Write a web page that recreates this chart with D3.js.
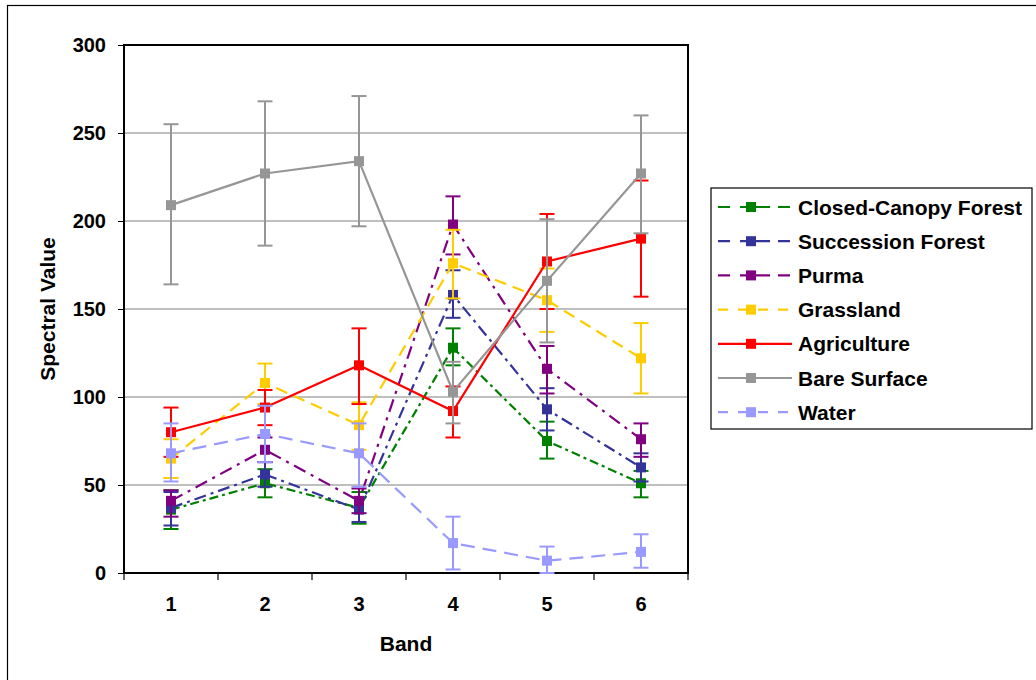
<!DOCTYPE html>
<html><head><meta charset="utf-8">
<script src="https://cdn.jsdelivr.net/npm/d3@7"></script>
<style>body{margin:0;background:#fff;} text{font-family:"Liberation Sans",Arial,sans-serif;font-weight:bold;}</style>
</head><body><svg id="c" width="1036" height="680"></svg>
<script>
const bands = ["1","2","3","4","5","6"];
const yTicks = [0,50,100,150,200,250,300];
const seriesNames = ["Closed-Canopy Forest","Succession Forest","Purma","Grassland","Agriculture","Bare Surface","Water"];
const closedCanopy     = [36, 51, 37, 128, 75, 51];
const closedCanopyLow  = [25, 43, 28, 118, 65, 43];
const closedCanopyHigh = [47, 59, 46, 139, 86, 58];
const succession       = [37, 56, 36, 158, 93, 60];
const successionLow    = [27, 49, 29, 145, 81, 52];
const successionHigh   = [46, 63, 43, 172, 105, 68];
const purma            = [41, 70, 41, 198, 116, 76];
const purmaLow         = [32, 63, 34, 181, 102, 66];
const purmaHigh        = [47, 77, 48, 214, 129, 85];
const grassland        = [65, 108, 84, 176, 155, 122];
const grasslandLow     = [54, 96, 70, 156, 137, 102];
const grasslandHigh    = [76, 119, 97, 195, 173, 142];
const agriculture      = [80, 94, 118, 92, 177, 190];
const agricultureLow   = [66, 84, 96, 77, 150, 157];
const agricultureHigh  = [94, 104, 139, 106, 204, 223];
const bareSurface      = [209, 227, 234, 103, 166, 227];
const bareSurfaceLow   = [164, 186, 197, 85, 131, 193];
const bareSurfaceHigh  = [255, 268, 271, 120, 201, 260];
const water            = [68, 79, 68, 17, 7, 12];
const waterLow         = [52, 63, 49, 2, 0, 3];
const waterHigh        = [85, 95, 85, 32, 15, 22];

const styles = [
  {color:"#008000", dash:"9,4,3,4"},
  {color:"#333399", dash:"12,5,3,5"},
  {color:"#800080", dash:"13,6,3,6"},
  {color:"#FFCC00", dash:"12,7"},
  {color:"#FF0000", dash:null},
  {color:"#969696", dash:null},
  {color:"#9999FF", dash:"14,8"}
];
const series = [
  [closedCanopy, closedCanopyLow, closedCanopyHigh],
  [succession, successionLow, successionHigh],
  [purma, purmaLow, purmaHigh],
  [grassland, grasslandLow, grasslandHigh],
  [agriculture, agricultureLow, agricultureHigh],
  [bareSurface, bareSurfaceLow, bareSurfaceHigh],
  [water, waterLow, waterHigh]
].map((s,i)=>({name:seriesNames[i], vals:s[0], lo:s[1], hi:s[2], ...styles[i]}));

const svg = d3.select("#c");
// outer frame
svg.append("rect").attr("x",7.5).attr("y",5.5).attr("width",1040).attr("height",700)
  .attr("fill","none").attr("stroke","#000").attr("stroke-width",1.2);

const L=124, T=45, R=688, B=573;
const x = d3.scaleBand().domain(bands).range([L,R]);
const y = d3.scaleLinear().domain([0,300]).range([B,T]);

// gridlines
svg.append("g").selectAll("line").data(yTicks.filter(d=>d>0)).join("line")
  .attr("x1",L).attr("x2",R).attr("y1",d=>y(d)).attr("y2",d=>y(d))
  .attr("stroke","#808080").attr("stroke-width",1.2);

// axes
const ya = svg.append("g").attr("transform",`translate(${L},0)`)
  .call(d3.axisLeft(y).tickValues(yTicks).tickSize(6).tickPadding(12));
ya.select(".domain").remove();
ya.selectAll("line").attr("stroke","#000");
ya.selectAll("text").attr("font-size",20).attr("fill","#000").style("font-family","Liberation Sans, Arial").style("font-weight","bold");

const xa = svg.append("g").attr("transform",`translate(0,${B})`)
  .call(d3.axisBottom(x).tickSize(0).tickPadding(24));
xa.select(".domain").remove();
xa.selectAll("text").attr("font-size",20).attr("fill","#000").style("font-family","Liberation Sans, Arial").style("font-weight","bold");
// category boundary ticks
svg.append("g").selectAll("line").data(d3.range(bands.length+1)).join("line")
  .attr("x1",i=>L+i*x.step()).attr("x2",i=>L+i*x.step())
  .attr("y1",B).attr("y2",B+7).attr("stroke","#000").attr("stroke-width",1.2);

// plot border
svg.append("rect").attr("x",L).attr("y",T).attr("width",R-L).attr("height",B-T)
  .attr("fill","none").attr("stroke","#000").attr("stroke-width",2);

const cx = d=>x(d)+x.bandwidth()/2;
const line = d3.line().x(d=>cx(d.b)).y(d=>y(d.v));
const gS = svg.append("g");
series.forEach(s=>{
  const pts = bands.map((b,i)=>({b, v:s.vals[i], lo:s.lo[i], hi:s.hi[i]}));
  const g = gS.append("g");
  g.selectAll("line.e").data(pts).join("line").attr("class","e")
    .attr("x1",d=>cx(d.b)).attr("x2",d=>cx(d.b)).attr("y1",d=>y(d.lo)).attr("y2",d=>y(d.hi))
    .attr("stroke",s.color).attr("stroke-width",2);
  ["lo","hi"].forEach(k=>{
    g.selectAll("line.c"+k).data(pts).join("line").attr("class","c"+k)
      .attr("x1",d=>cx(d.b)-7.5).attr("x2",d=>cx(d.b)+7.5).attr("y1",d=>y(d[k])).attr("y2",d=>y(d[k]))
      .attr("stroke",s.color).attr("stroke-width",2);
  });
  g.append("path").datum(pts).attr("d",line).attr("fill","none")
    .attr("stroke",s.color).attr("stroke-width",2.2).attr("stroke-dasharray",s.dash);
  g.selectAll("rect").data(pts).join("rect")
    .attr("x",d=>cx(d.b)-5).attr("y",d=>y(d.v)-5).attr("width",10).attr("height",10)
    .attr("fill",s.color);
});

// axis titles
svg.append("text").attr("x",406).attr("y",651).attr("text-anchor","middle").attr("font-size",21).text("Band");
svg.append("text").attr("transform","translate(55,309) rotate(-90)").attr("text-anchor","middle").attr("font-size",21).text("Spectral Value");

// legend
const lg = svg.append("g");
lg.append("rect").attr("x",711).attr("y",188).attr("width",321).attr("height",241)
  .attr("fill","#fff").attr("stroke","#000").attr("stroke-width",1.2);
series.forEach((s,i)=>{
  const yy = 207 + i*34.2;
  lg.append("line").attr("x1",718).attr("x2",792).attr("y1",yy).attr("y2",yy)
    .attr("stroke",s.color).attr("stroke-width",2.2)
    .attr("stroke-dasharray", s.dash ? (s.dash.split(",").length>2 ? "12,10,30,8" : "10,10") : null);
  lg.append("rect").attr("x",751-5).attr("y",yy-5).attr("width",10).attr("height",10).attr("fill",s.color);
  lg.append("text").attr("x",798).attr("y",yy+7.5).attr("font-size",21).text(s.name);
});
</script></body></html>
